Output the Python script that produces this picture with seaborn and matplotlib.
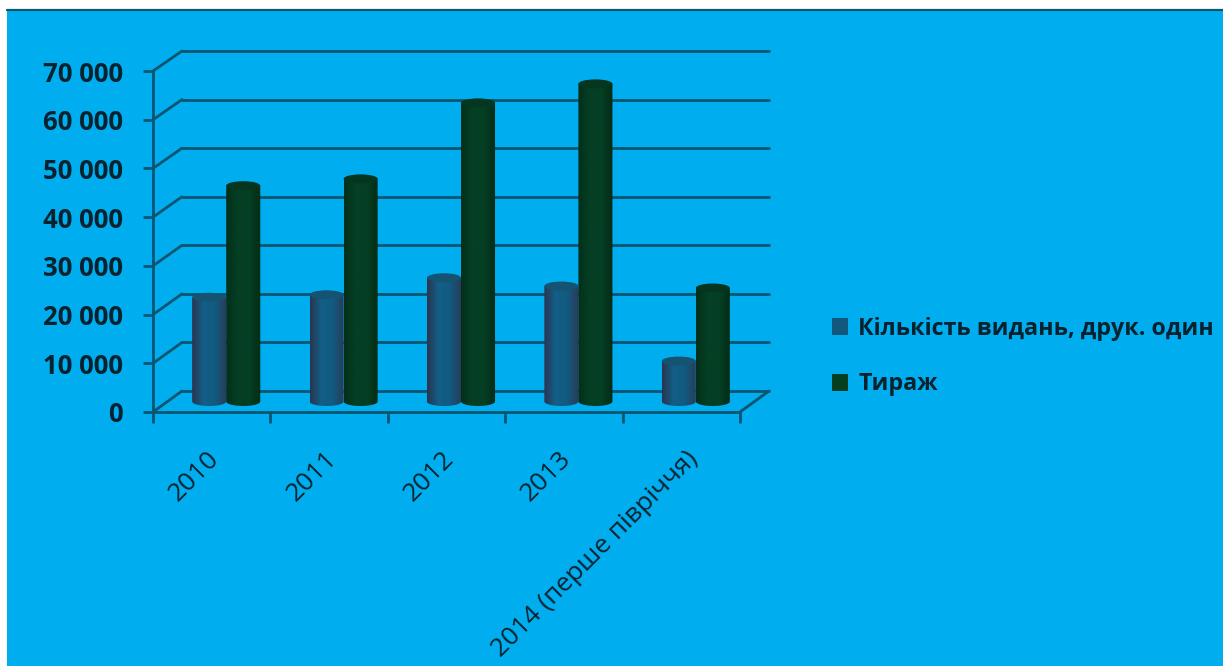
import matplotlib
matplotlib.use("Agg")
import matplotlib.pyplot as plt
from matplotlib.colors import LinearSegmentedColormap
from matplotlib.lines import Line2D
from matplotlib.patches import Ellipse, PathPatch, Rectangle
from matplotlib.path import Path
from matplotlib.transforms import ScaledTranslation
import numpy as np
import pandas as pd
import seaborn as sns

# values
years = ['2010', '2011', '2012', '2013', '2014 (перше півріччя)']
editions = [21400, 21900, 25400, 23700, 8300]
circulation = [44300, 45700, 61300, 65200, 23300]
series_names = ['Кількість видань, друк. один', 'Тираж']
y_ticks = [0, 10000, 20000, 30000, 40000, 50000, 60000, 70000]
y_tick_labels = ['0', '10 000', '20 000', '30 000', '40 000', '50 000', '60 000', '70 000']

W, H = 1223, 666
BG = '#00AEEF'
LINE = '#0B5570'
TEXT = '#06222F'
BAR_COLORS = ['#12587E', '#033F20']
SHADES = [['#2A3550', '#135F88', '#125A80', '#2B3A58'],
          ['#03301A', '#053F24', '#053F24', '#032C15']]
TOPS = ['#145472', '#043620']
LABEL_SHIFT = [-5, -5, -5, -5, 4]

sns.set_style('white')
plt.rcParams['font.family'] = ['Open Sans', 'DejaVu Sans']


def px_axes(fig, left, right, bottom, top):
    ax = fig.add_axes([left / W, 1 - bottom / H, (right - left) / W, (bottom - top) / H])
    ax.patch.set_alpha(0)
    ax.set_xlim(-0.5, len(years) - 0.5)
    ax.set_ylim(0, 70000)
    return ax


fig = plt.figure(figsize=(W / 100, H / 100), dpi=100, facecolor='white')
fig.add_artist(Rectangle((7 / W, 0), 1 - 7 / W, 1 - 9 / H, transform=fig.transFigure, color=BG, lw=0, zorder=-5))
fig.add_artist(Line2D([7 / W, 1], [1 - 9.5 / H] * 2, color='#065A6E', lw=1.6, zorder=-4))

# back wall, front frame, bars in the middle of the depth
ax_back = px_axes(fig, 182, 769, 391, 51)
ax_front = px_axes(fig, 153, 740, 412, 71)
ax = px_axes(fig, 167.5, 754.5, 401.5, 60.5)

ax_back.set_axis_off()
for v in y_ticks:
    ax_back.axhline(v, color=LINE, lw=2, clip_on=False)
    p0 = ax_front.transData.transform((-0.5, v))
    p1 = ax_back.transData.transform((-0.5, v))
    fig.add_artist(Line2D([p0[0] / W, p1[0] / W], [p0[1] / H, p1[1] / H], color=LINE, lw=2, zorder=-3))
p0 = ax_front.transData.transform((4.5, 0))
p1 = ax_back.transData.transform((4.5, 0))
fig.add_artist(Line2D([p0[0] / W, p1[0] / W], [p0[1] / H, p1[1] / H], color=LINE, lw=2, zorder=-3))

for side in ['top', 'right']:
    ax_front.spines[side].set_visible(False)
for side in ['left', 'bottom']:
    ax_front.spines[side].set_color(LINE)
    ax_front.spines[side].set_linewidth(2)
ax_front.set_yticks(y_ticks, y_tick_labels, fontsize=18.5, fontweight='bold', color=TEXT)
ax_front.tick_params(axis='y', left=True, length=7.5, width=2, color=LINE, pad=14)
ax_front.set_xticks(range(len(years)), years, rotation=45, ha='right', rotation_mode='anchor',
                    fontsize=18.8, color=TEXT)
ax_front.set_xticks(np.arange(len(years) + 1) - 0.5, minor=True)
ax_front.tick_params(axis='x', which='major', bottom=False, pad=21)
ax_front.tick_params(axis='x', which='minor', bottom=True, length=8, width=2, color=LINE)
for label, shift in zip(ax_front.get_xticklabels(), LABEL_SHIFT):
    label.set_transform(label.get_transform() + ScaledTranslation(shift / 100, 0, fig.dpi_scale_trans))

df = pd.DataFrame({
    'year': years * 2,
    'value': editions + circulation,
    'series': [series_names[0]] * len(years) + [series_names[1]] * len(years),
})
sns.barplot(data=df, x='year', y='value', hue='series', palette=BAR_COLORS,
            width=0.58, gap=0, saturation=1, ax=ax)
ax.set_axis_off()

# turn each flat bar into a shaded cylinder
cap = 4.5 * 70000 / 341
t = np.linspace(np.pi, 2 * np.pi, 40)
for i, container in enumerate(ax.containers):
    cmap = LinearSegmentedColormap.from_list('c', SHADES[i])
    for bar in container:
        x, w, h = bar.get_x(), bar.get_width(), bar.get_height()
        bar.set_visible(False)
        xs = x + w / 2 + w / 2 * np.cos(t)
        verts = list(zip(xs, cap * np.sin(t))) + [(x + w, h), (x, h), (x, 0)]
        clip = PathPatch(Path(verts), transform=ax.transData, fc='none', ec='none', clip_on=False)
        ax.add_patch(clip)
        im = ax.imshow(np.linspace(0, 1, 64).reshape(1, -1), cmap=cmap, aspect='auto',
                       extent=(x, x + w, -cap, h), zorder=3)
        im.set_clip_box(fig.bbox)
        im.set_clip_path(clip)
        ax.add_patch(Ellipse((x + w / 2, h), w, 2 * cap, fc=TOPS[i], ec='none', zorder=4))
ax.set_xlim(-0.5, len(years) - 0.5)
ax.set_ylim(0, 70000)

sns.move_legend(ax, 'upper left', bbox_to_anchor=(832 / W, 1 - 317 / H), bbox_transform=fig.transFigure,
                frameon=False, title=None, fontsize=16.75, handlelength=0.69, handleheight=0.76,
                handletextpad=0.43, labelspacing=1.35, borderaxespad=0, borderpad=0)
leg = ax.get_legend()
for txt in leg.get_texts():
    txt.set_fontweight('bold')
    txt.set_color(TEXT)
for handle in leg.get_patches():
    handle.set_edgecolor('none')

fig.savefig('out.png', dpi=100, facecolor=fig.get_facecolor())
